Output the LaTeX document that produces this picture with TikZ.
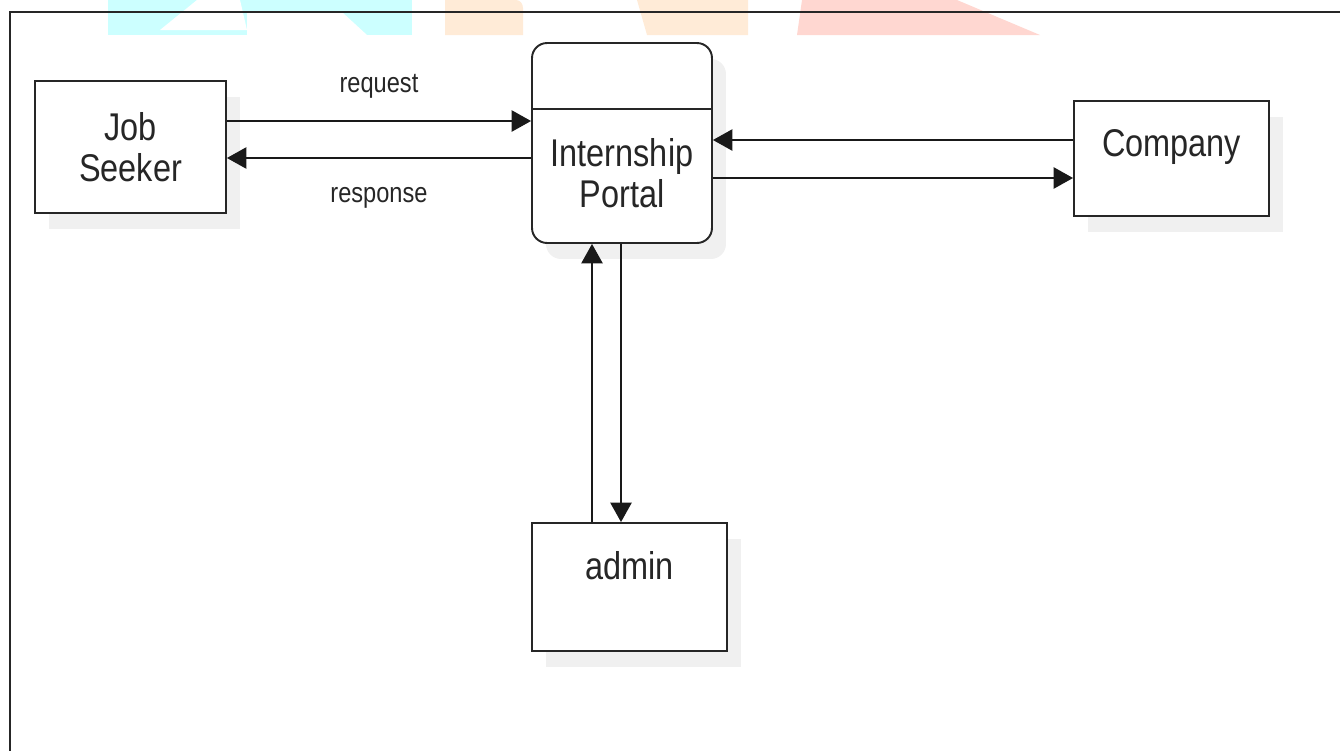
\documentclass[tikz,border=0pt]{standalone}
\usepackage{fontspec}
\setmainfont{Liberation Sans}[FakeStretch=0.84]
\usepackage{tikz}
\usetikzlibrary{arrows.meta,positioning,shadows}

\definecolor{wmcyan}{HTML}{CCFFFF}
\definecolor{wmorange}{HTML}{FFEBD7}
\definecolor{wmred}{HTML}{FFD7D1}

\begin{document}
\begin{tikzpicture}[
  x=0.02cm, y=-0.02cm,
  >={Triangle[length=11pt,width=12pt]},
  every node/.style={font=\fontsize{22}{23.5}\selectfont, text=black!85},
  entity/.style={rectangle, draw=black!85, line width=1.1pt, fill=white, align=center,
    drop shadow={shadow xshift=0.28cm, shadow yshift=-0.32cm, fill=black!6, opacity=1}},
  process/.style={entity, rounded corners=0.3cm},
  flow/.style={->, line width=1.1pt, draw=black!90},
  tag/.style={font=\fontsize{16}{18}\selectfont}
]
  \useasboundingbox (0,0) rectangle (1340,751);

  % watermark at the top
  \fill[wmcyan] (108,0) rectangle (412,35);
  \fill[white] (197,0) -- (240,0) -- (247,30) -- (160,30) -- cycle;
  \fill[white] (247,13) -- (343,13) -- (367,35) -- (247,35) -- cycle;
  \fill[wmorange] (445,0) -- (516,0) to[out=0,in=90] (523,8) -- (523,35) -- (445,35) -- cycle;
  \fill[wmorange] (637,0) -- (748,0) -- (748,35) -- (647,35) -- cycle;
  \fill[wmred] (802,0) -- (957,0) -- (1040,35) -- (797,35) -- cycle;

  % frame
  \draw[line width=1pt, black!85] (10,751) -- (10,12) -- (1340,12);

  \node[entity, minimum width=3.82cm, minimum height=2.64cm] (seeker) at (130.5,147) {Job\\Seeker};
  \node[process, minimum width=3.6cm, minimum height=4cm,
    label={[name=portaltxt, align=center, yshift=-0.6cm]center:Internship\\Portal}] (portal) at (622,143) {};
  \draw[line width=1.1pt, black!85] ([yshift=-1.34cm]portal.north west) -- ([yshift=-1.34cm]portal.north east);
  \node[entity, minimum width=3.9cm, minimum height=2.3cm,
    label={[name=companytxt, yshift=0.22cm]center:Company}] (company) at (1171.5,158.5) {};
  \node[entity, minimum width=3.9cm, minimum height=2.56cm,
    label={[name=admintxt, yshift=0.42cm]center:admin}] (admin) at (629.5,587) {};

  \draw[flow] ([yshift=0.52cm]seeker.east) -- node[tag, yshift=0.7cm] {request} ([yshift=0.52cm]seeker.east -| portal.west);
  \draw[flow] ([yshift=-0.22cm]seeker.east -| portal.west) -- node[tag, yshift=-0.8cm] {response} ([yshift=-0.22cm]seeker.east);

  \draw[flow] ([yshift=0.37cm]company.west) -- ([yshift=0.37cm]company.west -| portal.east);
  \draw[flow] ([yshift=-0.39cm]company.west -| portal.east) -- ([yshift=-0.39cm]company.west);

  \draw[flow] ([xshift=-0.75cm]admin.north) -- ([xshift=-0.75cm]admin.north |- portal.south);
  \draw[flow] ([xshift=-0.17cm]admin.north |- portal.south) -- ([xshift=-0.17cm]admin.north);
\end{tikzpicture}
\end{document}
